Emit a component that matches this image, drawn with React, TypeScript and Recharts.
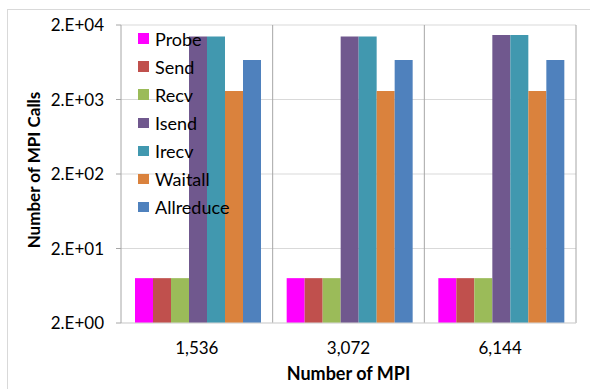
import React from 'react';
import { BarChart, Bar, XAxis, YAxis, CartesianGrid, Label } from 'recharts';

const categories = ['1,536', '3,072', '6,144'];

const probe = [8, 8, 8];
const send = [8, 8, 8];
const recv = [8, 8, 8];
const isend = [14000, 14000, 14700];
const irecv = [14000, 14000, 14700];
const waitall = [2600, 2600, 2600];
const allreduce = [6800, 6800, 6800];

const yTicks = [2, 20, 200, 2000, 20000];

const seriesNames = ['Probe', 'Send', 'Recv', 'Isend', 'Irecv', 'Waitall', 'Allreduce'];
const seriesValues = [probe, send, recv, isend, irecv, waitall, allreduce];
const seriesColors = ['#FF00FF', '#C0504D', '#9BBB59', '#70588E', '#4198AF', '#DA823D', '#4F81BD'];

const data = categories.map((cat, i) => {
  const row: Record<string, string | number> = { cat };
  seriesNames.forEach((name, s) => {
    row[name] = seriesValues[s][i];
  });
  return row;
});

const FONT = 'Lato, "Open Sans", sans-serif';

// 2 -> "2.E+00", 20000 -> "2.E+04"
const sciLabel = (v: number) => {
  const exp = Math.round(Math.log10(v / 2));
  return `2.E+${String(exp).padStart(2, '0')}`;
};

const W = 590;
const H = 389;
const margin = { top: 25, right: 14, bottom: 0, left: 0 };

const YTitle = (props: any) => {
  const { viewBox } = props;
  const x = viewBox.x + 33;
  const y = viewBox.y + viewBox.height / 2 - 4;
  return (
    <text
      x={x}
      y={y}
      transform={`rotate(-90, ${x}, ${y})`}
      textAnchor="middle"
      dominantBaseline="central"
      fontFamily={FONT}
      fontWeight="bold"
      fontSize={17}
      fill="#000"
    >
      Number of MPI Calls
    </text>
  );
};

// divider lines on the category boundaries instead of the centres
const boundaryLines = ({ offset }: any) =>
  categories.map((_, i) => offset.left + ((i + 1) * offset.width) / categories.length);

const App: React.FC = () => {
  return (
    <div style={{ position: 'fixed', left: 0, top: 0, width: W, height: H, background: '#fff', overflow: 'hidden' }}>
      <div
        style={{
          position: 'absolute',
          left: 7,
          top: 9,
          width: W,
          height: H,
          borderLeft: '1px solid #d9d9d9',
          borderTop: '1px solid #d9d9d9',
        }}
      />
      <BarChart
        width={W}
        height={H}
        data={data}
        margin={margin}
        barGap={0}
        barCategoryGap={14}
        style={{ position: 'absolute', left: 0, top: 0 }}
      >
        <CartesianGrid horizontal vertical={false} stroke="#d9d9d9" />
        <CartesianGrid
          horizontal={false}
          vertical
          stroke="#a6a6a6"
          verticalCoordinatesGenerator={boundaryLines}
        />
        <XAxis
          dataKey="cat"
          height={66}
          tickLine={false}
          tickMargin={13}
          axisLine={{ stroke: '#d9d9d9' }}
          tick={{ fill: '#000', fontFamily: FONT, fontSize: 17 }}
        >
          <Label
            value="Number of MPI"
            position="insideBottom"
            offset={9}
            fill="#000"
            fontFamily={FONT}
            fontWeight="bold"
            fontSize={18}
          />
        </XAxis>
        <YAxis
          width={121}
          scale="log"
          domain={[2, 20000]}
          ticks={yTicks}
          allowDataOverflow
          tickFormatter={sciLabel}
          tickSize={5}
          tickMargin={12}
          axisLine={{ stroke: '#a6a6a6' }}
          tickLine={{ stroke: '#a6a6a6' }}
          tick={{ fill: '#000', fontFamily: FONT, fontSize: 17 }}
        >
          <Label content={<YTitle />} />
        </YAxis>
        {seriesNames.map((name, s) => (
          <Bar key={name} dataKey={name} fill={seriesColors[s]} isAnimationActive={false} />
        ))}
      </BarChart>
      <div style={{ position: 'absolute', left: 138, top: 24.5, fontFamily: FONT, fontSize: 18 }}>
        {seriesNames.map((name, s) => (
          <div key={name} style={{ display: 'flex', alignItems: 'center', height: 28.1 }}>
            <span style={{ width: 11, height: 10.5, background: seriesColors[s], marginRight: 6 }} />
            <span>{name}</span>
          </div>
        ))}
      </div>
    </div>
  );
};

export default App;
